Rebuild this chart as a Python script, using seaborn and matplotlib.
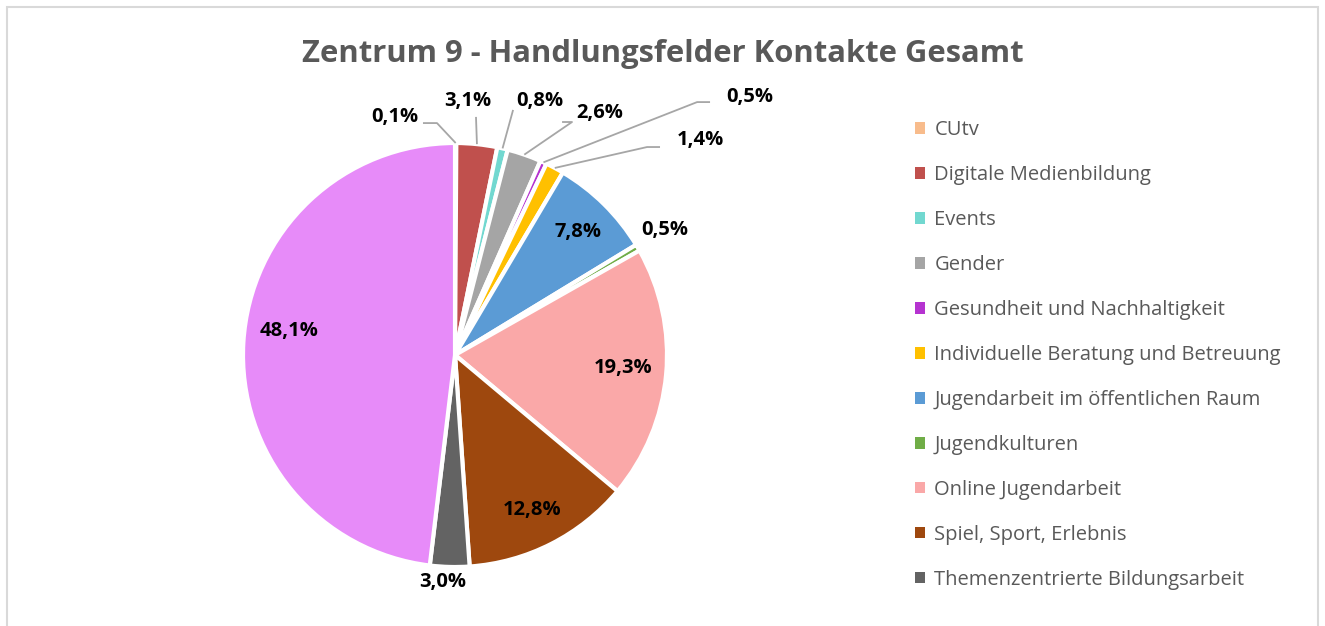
import numpy as np
import seaborn as sns
import matplotlib.pyplot as plt
from matplotlib.patches import Patch, Rectangle

# data
categories = ['CUtv', 'Digitale Medienbildung', 'Events', 'Gender',
              'Gesundheit und Nachhaltigkeit', 'Individuelle Beratung und Betreuung',
              'Jugendarbeit im öffentlichen Raum', 'Jugendkulturen',
              'Online Jugendarbeit', 'Spiel, Sport, Erlebnis',
              'Themenzentrierte Bildungsarbeit', 'Sonstige']
shares = [0.1, 3.1, 0.8, 2.6, 0.5, 1.4, 7.8, 0.5, 19.3, 12.8, 3.0, 48.1]
colors = ['#F8BC8C', '#C0504D', '#72D8D0', '#A5A5A5', '#B533D0', '#FFC000',
          '#5B9BD5', '#70AD47', '#FAA8A8', '#9E480E', '#636363', '#E78BF9']
n_legend = 11

# label placement (pie units, radius = 1)
label_pos = [(-0.283, 1.123), (0.061, 1.198), (0.401, 1.198), (0.684, 1.142),
             (1.392, 1.217), (1.156, 1.014), (0.580, 0.580), (0.991, 0.590),
             (0.792, -0.061), (0.363, -0.731), (-0.057, -1.071), (-0.783, 0.113)]
# leader line end near the label and optional elbow (None = no line)
leader_end = [(-0.151, 1.094), (0.099, 1.123), (0.274, 1.156), (0.505, 1.099),
              (1.203, 1.193), (0.967, 0.981), None, None, None, None, None, None]
elbow = [(-0.085, 1.094), None, None, (0.552, 1.099),
         (1.142, 1.193), (0.906, 0.981), None, None, None, None, None, None]

sns.set_theme(style='white')
plt.rcParams['font.family'] = ['Open Sans', 'DejaVu Sans']

W, H = 1325, 626
fig = plt.figure(figsize=(W / 100, H / 100), dpi=100)
ax = fig.add_axes([0, 0, 1, 1])

cx, cy, R = 455, 355, 212
wedges, _ = ax.pie(shares, colors=colors, startangle=90, counterclock=False,
                   radius=1.0, center=(0, 0),
                   wedgeprops=dict(edgecolor='white', linewidth=3))
ax.set_xlim(-cx / R, (W - cx) / R)
ax.set_ylim(-(H - cy) / R, cy / R)
ax.set_aspect('equal')
ax.axis('off')

# data labels
start = 90.0
for i, v in enumerate(shares):
    mid = np.deg2rad(start - v / 2 * 3.6)
    start -= v * 3.6
    txt = f"{v:.1f}%".replace('.', ',')
    ax.text(label_pos[i][0], label_pos[i][1], txt, ha='center', va='center',
            fontsize=14.5, fontweight='bold', color='black')
    if leader_end[i] is not None:
        pts = [(np.cos(mid), np.sin(mid))]
        if elbow[i] is not None:
            pts.append(elbow[i])
        pts.append(leader_end[i])
        xs, ys = zip(*pts)
        ax.plot(xs, ys, color='#A6A6A6', lw=1.3, solid_capstyle='butt')

# title
fig.text(0.5, 1 - 54 / H, 'Zentrum 9 - Handlungsfelder Kontakte Gesamt',
         ha='center', va='center', fontsize=22.3, fontweight='bold', color='#595959')

# legend
handles = [Patch(facecolor=colors[i], edgecolor='none') for i in range(n_legend)]
leg = fig.legend(handles, categories[:n_legend], loc='upper left',
                 bbox_to_anchor=(897 / W, 1 - 102 / H), frameon=False,
                 fontsize=14.5, labelcolor='#595959', handlelength=0.5,
                 handleheight=0.5, handletextpad=0.45, labelspacing=1.24)

# outer border
fig.patches.append(Rectangle((7 / W, -0.05), (1318 - 7) / W, 1.05 - 7 / H,
                             transform=fig.transFigure, fill=False,
                             edgecolor='#D9D9D9', lw=1.5))

fig.savefig('out.png', dpi=100)
